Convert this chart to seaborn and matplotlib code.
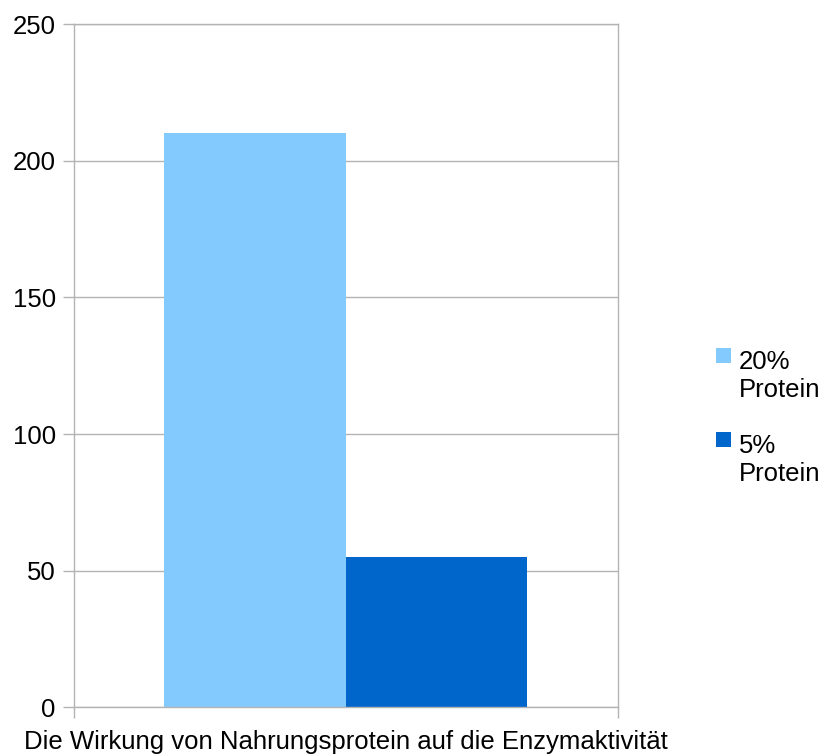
import pandas as pd
import matplotlib
matplotlib.use("Agg")
import matplotlib.pyplot as plt
from matplotlib.patches import Rectangle
from matplotlib.legend_handler import HandlerPatch
import seaborn as sns

# chart data
categories = ["Die Wirkung von Nahrungsprotein auf die Enzymaktivität"]
series = ["20% Protein", "5% Protein"]
values_20 = [210]
values_5 = [55]
legend_labels = ["20%\nProtein", "5%\nProtein"]
colors = ["#83CAFF", "#0066CC"]
y_ticks = [0, 50, 100, 150, 200, 250]

rows = []
for name, vals in zip(series, [values_20, values_5]):
    for cat, v in zip(categories, vals):
        rows.append({"category": cat, "series": name, "value": v})
df = pd.DataFrame(rows)

sns.set_theme(style="white")
plt.rcParams["font.family"] = ["Liberation Sans", "DejaVu Sans"]
plt.rcParams["text.color"] = "black"

FS = 18.5
grid_color = "#b3b3b3"
fig, ax = plt.subplots(figsize=(8.25, 7.55), dpi=100)
fig.subplots_adjust(left=0.0895, right=0.749, top=0.968, bottom=0.063)

sns.barplot(data=df, x="category", y="value", hue="series", palette=colors,
            saturation=1, width=0.667, linewidth=0, ax=ax)

ax.set_xlim(-0.5, 0.5)
ax.set_ylim(0, 250)
ax.set_yticks(y_ticks)
ax.yaxis.grid(True, color=grid_color, linewidth=1)
ax.set_axisbelow(True)
for sp in ax.spines.values():
    sp.set_visible(True)
    sp.set_color(grid_color)
    sp.set_linewidth(1)

ax.tick_params(axis="y", which="major", left=True, length=8, width=1,
               color=grid_color, labelsize=FS, labelcolor="black", pad=5)
ax.set_xticks([-0.5, 0.5], minor=True)
ax.tick_params(axis="x", which="minor", bottom=True, length=8, width=1,
               color=grid_color)
ax.tick_params(axis="x", which="major", bottom=False, labelsize=FS,
               labelcolor="black", pad=10)
ax.set_xlabel("")
ax.set_ylabel("")


# square legend key sitting beside the first line of a two-line label
def top_square(legend, orig_handle, xdescent, ydescent, width, height, fontsize):
    s = 0.58 * fontsize
    return Rectangle((-xdescent, -ydescent + height - s + 0.31 * fontsize), s, s)


handles, _ = ax.get_legend_handles_labels()
ax.legend(handles, legend_labels, loc="center left",
          bbox_to_anchor=(0.868, 0.446), bbox_transform=fig.transFigure,
          frameon=False, fontsize=FS, handlelength=0.62, handleheight=2.2,
          handletextpad=0.26, labelspacing=1.25, borderpad=0, borderaxespad=0,
          labelcolor="black",
          handler_map={h: HandlerPatch(patch_func=top_square) for h in handles})

fig.savefig("out.png", dpi=100)
